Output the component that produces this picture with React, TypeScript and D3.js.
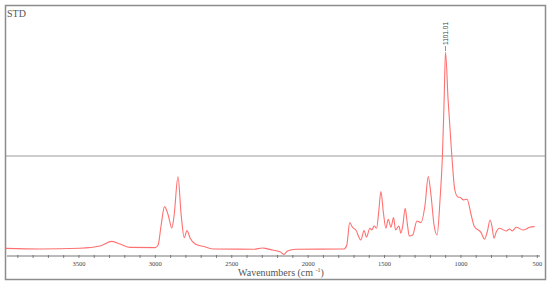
import React, { useRef, useEffect } from "react";
import * as d3 from "d3";

const width = 550;
const height = 285;

// spectrum (wavenumber cm-1, absorbance a.u.)
const wavenumbers = [
  3980, 3756, 3494, 3362, 3284, 3231, 3165, 3001, 2982, 2962, 2940, 2916, 2892, 2877,
  2852, 2831, 2811, 2793, 2772, 2739, 2673, 2620, 2358, 2299, 2273, 2233, 2181, 2159,
  2135, 2082, 1765, 1747, 1728, 1710, 1688, 1655, 1634, 1618, 1596, 1583, 1568, 1552,
  1537, 1524, 1508, 1491, 1476, 1458, 1441, 1428, 1406, 1393, 1380, 1365, 1350, 1338,
  1316, 1288, 1262, 1235, 1214, 1196, 1176, 1156, 1137, 1121, 1110, 1101, 1084, 1060,
  1040, 1020, 1004, 982, 960, 933, 912, 868, 846, 828, 809, 795, 784, 769, 748, 704,
  682, 664, 638, 594, 572, 551, 518
];
const absorbance = [
  0.008, 0.005, 0.009, 0.02, 0.043, 0.03, 0.013, 0.012, 0.025, 0.125, 0.217, 0.175,
  0.11, 0.175, 0.366, 0.175, 0.062, 0.097, 0.059, 0.03, 0.015, 0.005, 0.004, 0.01,
  0.007, 0.0, -0.01, -0.022, -0.005, 0.004, 0.005, 0.025, 0.137, 0.114, 0.1, 0.05,
  0.097, 0.064, 0.109, 0.1, 0.12, 0.109, 0.2, 0.292, 0.19, 0.109, 0.154, 0.114, 0.162,
  0.1, 0.12, 0.084, 0.125, 0.209, 0.125, 0.07, 0.075, 0.145, 0.137, 0.225, 0.367,
  0.275, 0.125, 0.075, 0.25, 0.475, 0.75, 0.99, 0.75, 0.475, 0.3, 0.265, 0.262, 0.25,
  0.254, 0.175, 0.117, 0.087, 0.054, 0.09, 0.15, 0.11, 0.059, 0.09, 0.109, 0.095,
  0.105, 0.095, 0.114, 0.1, 0.105, 0.114, 0.117
];
const majorTicks = [3500, 3000, 2500, 2000, 1500, 1000, 500];
const peakLabel = "1101.01";
const peakAt = 1101;

export default function App() {
  const ref = useRef<SVGSVGElement | null>(null);

  useEffect(() => {
    const svg = d3.select(ref.current);
    svg.selectAll("*").remove();

    const x = d3.scaleLinear().domain([3971, 476]).range([7, 541]);
    const y = d3.scaleLinear().domain([0, 1]).range([250, 50]);

    // frame
    svg.append("rect")
      .attr("x", 5.5).attr("y", 5.5)
      .attr("width", 540).attr("height", 274)
      .attr("fill", "#fff")
      .attr("stroke", "#8c8c8c")
      .attr("stroke-width", 1.5);

    svg.append("text")
      .attr("x", 7).attr("y", 17)
      .attr("font-family", "Liberation Serif, serif")
      .attr("font-size", 10)
      .attr("fill", "#555")
      .text("STD");

    // reference line
    svg.append("line")
      .attr("x1", 6).attr("x2", 545)
      .attr("y1", 156).attr("y2", 156)
      .attr("stroke", "#9a9a9a")
      .attr("stroke-width", 1);

    // x axis
    const axisY = 256;
    const ax = svg.append("g").attr("transform", `translate(0,${axisY})`);
    ax.append("line")
      .attr("x1", 7).attr("x2", 540)
      .attr("stroke", "#777").attr("stroke-width", 1);
    const minor = d3.range(3900, 400, -100);
    ax.selectAll("line.minor")
      .data(minor)
      .enter()
      .append("line")
      .attr("class", "minor")
      .attr("x1", (d) => x(d)).attr("x2", (d) => x(d))
      .attr("y1", -1).attr("y2", 2)
      .attr("stroke", "#666").attr("stroke-width", 0.8);
    ax.selectAll("text")
      .data(majorTicks)
      .enter()
      .append("text")
      .attr("x", (d) => x(d))
      .attr("y", 10)
      .attr("text-anchor", "middle")
      .attr("font-family", "Liberation Serif, serif")
      .attr("font-size", 6.5)
      .attr("fill", "#444")
      .text((d) => d);

    const title = svg.append("text")
      .attr("x", 281).attr("y", 276)
      .attr("text-anchor", "middle")
      .attr("font-family", "Liberation Serif, serif")
      .attr("font-size", 10)
      .attr("fill", "#555");
    title.append("tspan").text("Wavenumbers (cm ");
    title.append("tspan").attr("font-size", 6).attr("dy", -4).text("-1");
    title.append("tspan").attr("dy", 4).text(")");

    // spectrum
    const pts = wavenumbers.map((w, i) => [w, absorbance[i]] as [number, number]);
    const line = d3.line<[number, number]>()
      .x((d) => x(d[0]))
      .y((d) => y(d[1]))
      .curve(d3.curveMonotoneX);
    svg.append("path")
      .datum(pts)
      .attr("d", line)
      .attr("fill", "none")
      .attr("stroke", "#ff7070")
      .attr("stroke-width", 1.1);

    // peak annotation
    const px = x(peakAt);
    const py = y(0.99);
    svg.append("line")
      .attr("x1", px).attr("x2", px)
      .attr("y1", py - 1).attr("y2", py - 6)
      .attr("stroke", "#777").attr("stroke-width", 0.8);
    svg.append("text")
      .attr("transform", `translate(${px + 2.5},${py - 7}) rotate(-90)`)
      .attr("font-family", "Liberation Sans, sans-serif")
      .attr("font-size", 6.5)
      .attr("fill", "#444")
      .text(peakLabel);
  }, []);

  return (
    <svg
      ref={ref}
      width={width}
      height={height}
      style={{ position: "absolute", left: 0, top: 0 }}
    />
  );
}
